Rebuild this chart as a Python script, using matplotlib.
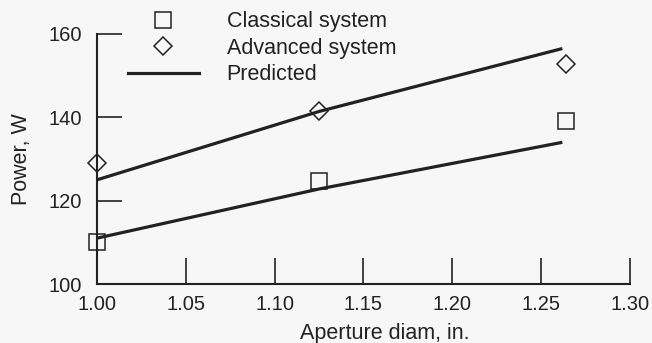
import matplotlib.pyplot as plt
from matplotlib.lines import Line2D

# measured points
diam_meas = [1.00, 1.125, 1.264]
classical = [110.0, 124.7, 139.1]
advanced = [129.0, 141.5, 152.9]

# predicted curves
diam_pred = [1.00, 1.125, 1.262]
pred_classical = [111.0, 122.8, 134.0]
pred_advanced = [125.0, 141.4, 156.5]

xticks = [1.00, 1.05, 1.10, 1.15, 1.20, 1.25, 1.30]
yticks = [100, 120, 140, 160]

ink = '#222222'
bg = '#f7f7f7'

plt.rcParams['font.family'] = ['Liberation Sans', 'DejaVu Sans']

fig = plt.figure(figsize=(6.52, 3.43), dpi=100, facecolor=bg)
ax = fig.add_axes([0.1488, 0.172, 0.8172, 0.729])
ax.set_facecolor(bg)

ax.plot(diam_pred, pred_advanced, color=ink, lw=2.3, solid_capstyle='butt')
ax.plot(diam_pred, pred_classical, color=ink, lw=2.3, solid_capstyle='butt')
ax.plot(diam_meas, classical, ls='none', marker='s', ms=11, mfc='none', mec=ink, mew=1.1, clip_on=False)
ax.plot(diam_meas, advanced, ls='none', marker='D', ms=9.5, mfc='none', mec=ink, mew=1.1, clip_on=False)

ax.set_xlim(1.00, 1.30)
ax.set_ylim(100, 160)
ax.set_xticks(xticks)
ax.set_xticklabels(['%.2f' % v for v in xticks])
ax.set_yticks(yticks)

for s in ['top', 'right']:
    ax.spines[s].set_visible(False)
for s in ['left', 'bottom']:
    ax.spines[s].set_linewidth(1.5)
    ax.spines[s].set_color(ink)

ax.tick_params(axis='x', direction='in', length=19, width=1.2, color=ink, pad=8, labelsize=14.5, labelcolor=ink)
ax.tick_params(axis='y', direction='in', length=18, width=1.2, color=ink, pad=11, labelsize=14.5, labelcolor=ink)

ax.set_xlabel('Aperture diam, in.', fontsize=15.5, color=ink)
ax.xaxis.set_label_coords(0.54, -0.155)
ax.set_ylabel('Power, W', fontsize=15.5, color=ink, labelpad=12)

handles = [
    Line2D([], [], ls='none', marker='s', ms=11, mfc='none', mec=ink, mew=1.1),
    Line2D([], [], ls='none', marker='D', ms=9.5, mfc='none', mec=ink, mew=1.1),
    Line2D([], [], color=ink, lw=2.3),
]
fig.legend(handles, ['Classical system', 'Advanced system', 'Predicted'],
           loc='upper left', bbox_to_anchor=(0.166, 1.023), frameon=False,
           fontsize=15.5, handlelength=3.3, handletextpad=1.3, labelspacing=0.25,
           labelcolor=ink)

fig.savefig('out.png', dpi=100, facecolor=bg)
